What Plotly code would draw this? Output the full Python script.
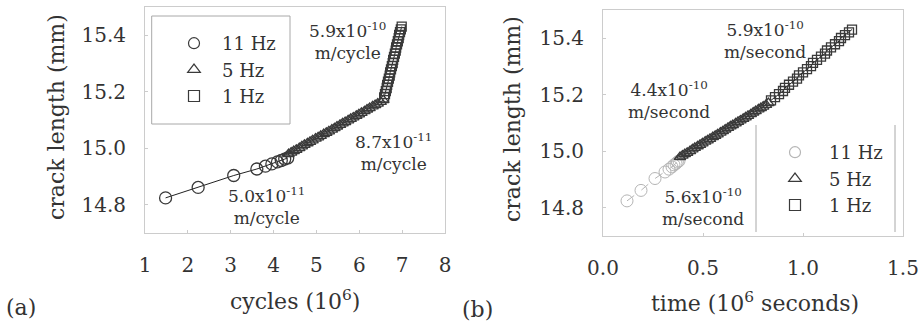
import plotly.graph_objects as go

# ---------------- data ----------------
# (a) crack length vs. cycles (10^6)
cyc_11hz = [1.48, 2.24, 3.07, 3.61, 3.81, 3.96, 4.09, 4.18, 4.26, 4.33]
len_11hz = [14.825, 14.862, 14.904, 14.927, 14.937, 14.945, 14.952, 14.957, 14.962, 14.966]

cyc_5hz = [4.35, 4.41, 4.47, 4.53, 4.60, 4.66, 4.72, 4.79, 4.85, 4.91, 4.98, 5.04,
           5.10, 5.17, 5.23, 5.29, 5.36, 5.42, 5.48, 5.55, 5.61, 5.67, 5.74, 5.80,
           5.86, 5.93, 5.99, 6.05, 6.12, 6.18, 6.24, 6.31, 6.37, 6.43, 6.50, 6.56]
len_5hz = [14.980, 14.985, 14.990, 14.995, 15.001, 15.007, 15.012, 15.018, 15.023,
           15.028, 15.034, 15.039, 15.044, 15.050, 15.055, 15.060, 15.066, 15.071,
           15.077, 15.083, 15.088, 15.093, 15.099, 15.104, 15.109, 15.115, 15.120,
           15.125, 15.131, 15.137, 15.142, 15.148, 15.153, 15.158, 15.164, 15.170]

cyc_1hz = [6.58, 6.60, 6.62, 6.64, 6.65, 6.67, 6.69, 6.71, 6.72, 6.74, 6.76, 6.78,
           6.79, 6.81, 6.83, 6.85, 6.86, 6.88, 6.90, 6.92, 6.93, 6.95, 6.97, 6.99]
len_1hz = [15.180, 15.191, 15.202, 15.213, 15.224, 15.235, 15.246, 15.257, 15.268,
           15.279, 15.290, 15.301, 15.312, 15.323, 15.334, 15.345, 15.356, 15.367,
           15.378, 15.389, 15.400, 15.410, 15.420, 15.430]

# (b) crack length vs. time (10^6 seconds)
t_11hz = [0.12, 0.19, 0.26, 0.31, 0.33, 0.345, 0.355, 0.365, 0.372, 0.38]
t_5hz = [0.385, 0.397, 0.409, 0.421, 0.435, 0.447, 0.459, 0.473, 0.485, 0.497,
         0.511, 0.523, 0.535, 0.549, 0.561, 0.573, 0.587, 0.599, 0.611, 0.625,
         0.637, 0.649, 0.663, 0.675, 0.687, 0.701, 0.713, 0.725, 0.739, 0.751,
         0.763, 0.777, 0.789, 0.801, 0.815, 0.827]
t_1hz = [0.840, 0.860, 0.880, 0.900, 0.910, 0.930, 0.950, 0.970, 0.980, 1.000,
         1.020, 1.040, 1.050, 1.070, 1.090, 1.110, 1.120, 1.140, 1.160, 1.180,
         1.190, 1.210, 1.230, 1.245]

series_names = ["11 Hz", "5 Hz", "1 Hz"]
x_ticks_a = [1, 2, 3, 4, 5, 6, 7, 8]
x_ticks_b = [0.0, 0.5, 1.0, 1.5]
y_ticks = [14.8, 15.0, 15.2, 15.4]

rate_labels_a = ["5.9x10<sup>-10</sup><br>m/cycle",
                 "8.7x10<sup>-11</sup><br>m/cycle",
                 "5.0x10<sup>-11</sup><br>m/cycle"]
rate_labels_b = ["5.9x10<sup>-10</sup><br>m/second",
                 "4.4x10<sup>-10</sup><br>m/second",
                 "5.6x10<sup>-10</sup><br>m/second"]

# ---------------- styling ----------------
W, H = 923, 322
FONT = "DejaVu Serif"
INK = "#333333"
MARK = "#3a3a3a"
FAINT = "#b5b5b5"
FRAME = "#cccccc"


def px(x):
    return x / W


def py(y):
    return 1 - y / H


symbols = ["circle-open", "triangle-up-open", "square-open"]
sizes = [12, 10, 9]

fig = go.Figure()

# panel (a): one continuous solid line through all three series
for xs, ys, sym, sz in zip([cyc_11hz, cyc_5hz, cyc_1hz], [len_11hz, len_5hz, len_1hz],
                           symbols, sizes):
    fig.add_trace(go.Scatter(
        x=xs, y=ys, mode="lines+markers", xaxis="x", yaxis="y", showlegend=False,
        line=dict(color="#222222", width=1),
        marker=dict(symbol=sym, size=sz, color=MARK, line=dict(color=MARK, width=1.3)),
    ))

# panel (b): 11 Hz shown faint and dashed
fig.add_trace(go.Scatter(
    x=t_11hz, y=len_11hz, mode="lines+markers", xaxis="x2", yaxis="y2", showlegend=False,
    line=dict(color=FAINT, width=1, dash="dash"),
    marker=dict(symbol=symbols[0], size=sizes[0], color=FAINT, line=dict(color=FAINT, width=1)),
))
for xs, ys, sym, sz in zip([t_5hz, t_1hz], [len_5hz, len_1hz], symbols[1:], sizes[1:]):
    fig.add_trace(go.Scatter(
        x=xs, y=ys, mode="lines+markers", xaxis="x2", yaxis="y2", showlegend=False,
        line=dict(color="#222222", width=1),
        marker=dict(symbol=sym, size=sz, color=MARK, line=dict(color=MARK, width=1.3)),
    ))

# legend entries (markers only)
for name, sym in zip(series_names, symbols):
    fig.add_trace(go.Scatter(
        x=[None], y=[None], mode="markers", name=name, legend="legend",
        xaxis="x", yaxis="y",
        marker=dict(symbol=sym, size=11, color=MARK, line=dict(color=MARK, width=1.2)),
    ))
for name, sym, col in zip(series_names, symbols, [FAINT, MARK, MARK]):
    fig.add_trace(go.Scatter(
        x=[None], y=[None], mode="markers", name=name, legend="legend2",
        xaxis="x2", yaxis="y2",
        marker=dict(symbol=sym, size=11, color=col, line=dict(color=col, width=1.2)),
    ))

axis_common = dict(
    showline=True, linecolor=FRAME, linewidth=1, mirror=True,
    ticks="inside", ticklen=3, tickcolor=FRAME,
    showgrid=False, zeroline=False, automargin=False,
    tickfont=dict(family=FONT, size=20, color=INK),
)

legend_common = dict(xanchor="left", yanchor="top", bgcolor="rgba(0,0,0,0)",
                     borderwidth=0, font=dict(family=FONT, size=18, color=INK))

fig.update_layout(
    width=W, height=H,
    margin=dict(l=0, r=0, t=0, b=0, autoexpand=False),
    paper_bgcolor="white", plot_bgcolor="white",
    font=dict(family=FONT, color=INK),
    xaxis=dict(domain=[px(145), px(445)], range=[1, 8], tickvals=x_ticks_a,
               anchor="y", ticklabelstandoff=14, **axis_common),
    yaxis=dict(domain=[py(233.3), py(6.7)], range=[14.7, 15.5], tickvals=y_ticks,
               tickformat=".1f", anchor="x", ticklabelstandoff=14, **axis_common),
    xaxis2=dict(domain=[px(603), px(903)], range=[0, 1.5], tickvals=x_ticks_b,
                tickformat=".1f", anchor="y2", ticklabelstandoff=14, **axis_common),
    yaxis2=dict(domain=[py(236.3), py(9.7)], range=[14.7, 15.5], tickvals=y_ticks,
                tickformat=".1f", anchor="x2", ticklabelstandoff=14, **axis_common),
    legend=dict(x=px(166), y=py(25), itemwidth=46, **legend_common),
    legend2=dict(x=px(761), y=py(134), itemwidth=58, **legend_common),
    showlegend=True,
)

# legend frames
fig.add_shape(type="rect", xref="paper", yref="paper",
              x0=px(151.7), x1=px(290), y0=py(124), y1=py(16),
              line=dict(color="#a8a8a8", width=1))
for xv in (756, 895):
    fig.add_shape(type="line", xref="paper", yref="paper",
                  x0=px(xv), x1=px(xv), y0=py(232), y1=py(125),
                  line=dict(color="#a8a8a8", width=1))

ann_font = dict(family=FONT, size=17, color=INK)
title_font = dict(family=FONT, size=22, color=INK)


def label(text, cx, cy, font, **kw):
    fig.add_annotation(text=text, x=px(cx), y=py(cy), xref="paper", yref="paper",
                       xanchor="center", yanchor="middle", showarrow=False,
                       align="center", font=font, **kw)


for text, (cx, cy) in zip(rate_labels_a, [(347, 41), (393, 152), (266, 206)]):
    label(text, cx, cy, ann_font)
for text, (cx, cy) in zip(rate_labels_b, [(765, 40), (669, 100), (703, 207)]):
    label(text, cx, cy, ann_font)

# axis titles and panel labels
label("crack length (mm)", 57, 117, title_font, textangle=-90)
label("crack length (mm)", 513, 119, title_font, textangle=-90)
label("cycles (10<sup>6</sup>)", 295, 300, title_font)
label("time (10<sup>6</sup> seconds)", 755, 302, title_font)
label("(a)", 21, 307, title_font)
label("(b)", 478, 309, title_font)

fig.write_html("out.html")
